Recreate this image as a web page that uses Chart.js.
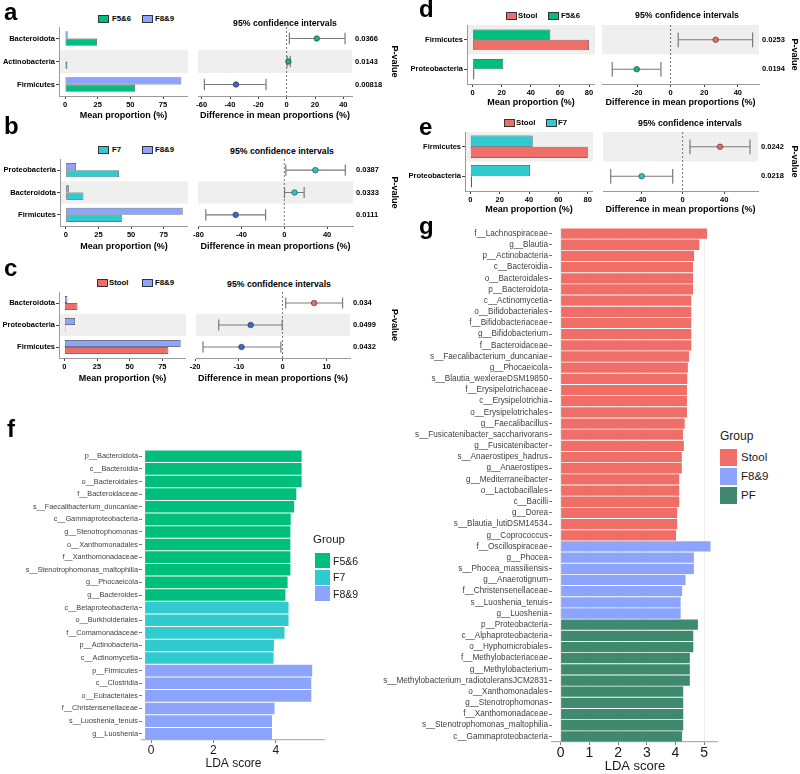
<!DOCTYPE html>
<html>
<head>
<meta charset="utf-8">
<title>STAMP and LEfSe comparison</title>
<script src="https://cdn.jsdelivr.net/npm/chart.js@4.4.1/dist/chart.umd.min.js"></script>
<style>
  body { margin: 0; background: #fff; }
  #fig { position: relative; width: 800px; height: 774px; overflow: hidden; font-family: "Liberation Sans", Arial, sans-serif; }
  #fig canvas { position: absolute; }
  .txt { position: absolute; white-space: nowrap; line-height: 1; }
  .sw { position: absolute; box-sizing: border-box; }
</style>
</head>
<body>
<div id="fig"></div>
<script>
// ---- a: F5&6 vs F8&9 ----
const aTaxa = ['Bacteroidota', 'Actinobacteria', 'Firmicutes'];
const aF56 = [24.4, 1.8, 53.6];
const aF89 = [2.0, 0.5, 89.0];
const aDiff = [21.2, 1.2, -35.8];
const aLow = [1.9, 0.3, -58.1];
const aHigh = [41.2, 2.5, -14.6];
const aP = ['0.0366', '0.0143', '0.00818'];
const aMeanTicks = [0, 25, 50, 75];
const aDiffTicks = [-60, -40, -20, 0, 20, 40];

// ---- b: F7 vs F8&9 ----
const bTaxa = ['Proteobacteria', 'Bacteroidota', 'Firmicutes'];
const bF7 = [40.8, 13.5, 42.9];
const bF89 = [7.9, 2.3, 89.5];
const bDiff = [29.1, 9.6, -45.3];
const bLow = [1.5, 0.3, -73.2];
const bHigh = [57.0, 18.6, -17.4];
const bP = ['0.0387', '0.0333', '0.0111'];
const bMeanTicks = [0, 25, 50, 75];
const bDiffTicks = [-80, -40, 0, 40];

// ---- c: Stool vs F8&9 ----
const cTaxa = ['Bacteroidota', 'Proteobacteria', 'Firmicutes'];
const cStool = [10.0, 0.8, 79.6];
const cF89 = [2.3, 8.2, 89.0];
const cDiff = [7.2, -7.3, -9.4];
const cLow = [0.7, -14.6, -18.2];
const cHigh = [13.7, -0.1, -0.4];
const cP = ['0.034', '0.0499', '0.0432'];
const cMeanTicks = [0, 25, 50, 75];
const cDiffTicks = [-20, -10, 0, 10];

// ---- d: Stool vs F5&6 ----
const dTaxa = ['Firmicutes', 'Proteobacteria'];
const dStool = [80.0, 1.2];
const dF56 = [53.4, 21.0];
const dDiff = [26.8, -20.2];
const dLow = [4.5, -34.8];
const dHigh = [48.8, -5.8];
const dP = ['0.0253', '0.0194'];
const dMeanTicks = [0, 20, 40, 60, 80];
const dDiffTicks = [-20, 0, 20, 40];

// ---- e: Stool vs F7 ----
const eTaxa = ['Firmicutes', 'Proteobacteria'];
const eStool = [80.0, 1.1];
const eF7 = [42.5, 40.7];
const eDiff = [35.9, -39.4];
const eLow = [7.0, -69.2];
const eHigh = [64.7, -9.6];
const eP = ['0.0242', '0.0218'];
const eMeanTicks = [0, 20, 40, 60, 80];
const eDiffTicks = [-40, 0, 40];

// ---- f: LEfSe F5&6 / F7 / F8&9 ----
const fTaxa = ['p__Bacteroidota', 'c__Bacteroidia', 'o__Bacteroidales', 'f__Bacteroidaceae',
  's__Faecalibacterium_duncaniae', 'c__Gammaproteobacteria', 'g__Stenotrophomonas', 'o__Xanthomonadales',
  'f__Xanthomonadaceae', 's__Stenotrophomonas_maltophilia', 'g__Phocaeicola', 'g__Bacteroides',
  'c__Betaproteobacteria', 'o__Burkholderiales', 'f__Comamonadaceae', 'p__Actinobacteria',
  'c__Actinomycetia', 'p__Firmicutes', 'c__Clostridia', 'o__Eubacteriales',
  'f__Christensenellaceae', 's__Luoshenia_tenuis', 'g__Luoshenia'];
const fLDA = [4.83, 4.83, 4.83, 4.66, 4.59, 4.48, 4.47, 4.47, 4.47, 4.47, 4.38, 4.31,
  4.41, 4.41, 4.28, 3.94, 3.93, 5.17, 5.14, 5.14, 3.96, 3.88, 3.88];
const fGroup = ['F5&6', 'F5&6', 'F5&6', 'F5&6', 'F5&6', 'F5&6', 'F5&6', 'F5&6', 'F5&6', 'F5&6', 'F5&6', 'F5&6',
  'F7', 'F7', 'F7', 'F7', 'F7', 'F8&9', 'F8&9', 'F8&9', 'F8&9', 'F8&9', 'F8&9'];
const fGroups = ['F5&6', 'F7', 'F8&9'];
const fTicks = [0, 2, 4];

// ---- g: LEfSe Stool / F8&9 / PF ----
const gTaxa = ['f__Lachnospiraceae', 'g__Blautia', 'p__Actinobacteria', 'c__Bacteroidia', 'o__Bacteroidales',
  'p__Bacteroidota', 'c__Actinomycetia', 'o__Bifidobacteriales', 'f__Bifidobacteriaceae', 'g__Bifidobacterium',
  'f__Bacteroidaceae', 's__Faecalibacterium_duncaniae', 'g__Phocaeicola', 's__Blautia_wexleraeDSM19850',
  'f__Erysipelotrichaceae', 'c__Erysipelotrichia', 'o__Erysipelotrichales', 'g__Faecalibacillus',
  's__Fusicatenibacter_saccharivorans', 'g__Fusicatenibacter', 's__Anaerostipes_hadrus', 'g__Anaerostipes',
  'g__Mediterraneibacter', 'o__Lactobacillales', 'c__Bacilli', 'g__Dorea', 's__Blautia_lutiDSM14534',
  'g__Coprococcus', 'f__Oscillospiraceae', 'g__Phocea', 's__Phocea_massiliensis', 'g__Anaerotignum',
  'f__Christensenellaceae', 's__Luoshenia_tenuis', 'g__Luoshenia', 'p__Proteobacteria',
  'c__Alphaproteobacteria', 'o__Hyphomicrobiales', 'f__Methylobacteriaceae', 'g__Methylobacterium',
  's__Methylobacterium_radiotoleransJCM2831', 'o__Xanthomonadales', 'g__Stenotrophomonas',
  'f__Xanthomonadaceae', 's__Stenotrophomonas_maltophilia', 'c__Gammaproteobacteria'];
const gLDA = [5.10, 4.83, 4.65, 4.61, 4.61, 4.61, 4.55, 4.55, 4.55, 4.55, 4.55, 4.47, 4.43, 4.41,
  4.40, 4.40, 4.40, 4.32, 4.26, 4.29, 4.22, 4.22, 4.13, 4.13, 4.13, 4.06, 4.06, 4.02,
  5.22, 4.64, 4.64, 4.35, 4.23, 4.18, 4.18,
  4.78, 4.62, 4.62, 4.50, 4.50, 4.50, 4.27, 4.27, 4.27, 4.27, 4.23];
const gGroup = [].concat(Array(28).fill('Stool'), Array(7).fill('F8&9'), Array(11).fill('PF'));
const gGroups = ['Stool', 'F8&9', 'PF'];
const gTicks = [0, 1, 2, 3, 4, 5];

const FONT = '"Liberation Sans", Arial, sans-serif';
Chart.defaults.font.family = FONT;

const groupColors = { 'F5&6': '#00BF7D', 'F7': '#30CBCE', 'F8&9': '#8CA4FC', 'Stool': '#F06E68', 'PF': '#3F896E' };
const dotColors = { 'F5&6': '#17B27A', 'F7': '#2DC4C8', 'F8&9': '#3F63CF', 'Stool': '#EC6961' };

const fig = document.getElementById('fig');

function addCanvas(x, y, w, h) {
  const c = document.createElement('canvas');
  c.width = w; c.height = h;
  c.style.left = x + 'px'; c.style.top = y + 'px';
  fig.appendChild(c);
  return c.getContext('2d');
}

function text(str, x, y, size, o = {}) {
  const el = document.createElement('div');
  el.className = 'txt';
  el.textContent = str;
  el.style.left = x + 'px';
  el.style.top = y + 'px';
  el.style.fontSize = size + 'px';
  if (o.bold) el.style.fontWeight = 'bold';
  el.style.color = o.color || '#000';
  if (o.center) el.style.transform = 'translate(-50%,-50%)';
  else if (!o.raw) el.style.transform = 'translateY(-50%)';
  fig.appendChild(el);
}

function swatch(x, y, w, h, color, border) {
  const el = document.createElement('div');
  el.className = 'sw';
  el.style.cssText += `left:${x}px;top:${y}px;width:${w}px;height:${h}px;background:${color};` +
    (border ? `border:1px solid ${border};` : '');
  fig.appendChild(el);
}

// grey band behind every other row (counting from the bottom)
const stripes = {
  id: 'stripes',
  beforeDraw(chart) {
    const { ctx, chartArea: a, scales: { y } } = chart;
    const n = y.getLabels().length;
    const h = a.height / n;
    ctx.save();
    ctx.fillStyle = '#efefef';
    for (let i = 0; i < n; i++) {
      if ((n - 1 - i) % 2 === 1) ctx.fillRect(a.left, y.getPixelForValue(i) - h / 2, a.width, h);
    }
    ctx.restore();
  }
};

// 95% CI whiskers plus the dotted zero line
const errorBars = {
  id: 'errorBars',
  beforeDatasetsDraw(chart, args, opts) {
    const { ctx, chartArea: a, scales: { x, y } } = chart;
    const rowH = a.height / y.getLabels().length;
    ctx.save();
    const x0 = x.getPixelForValue(0);
    ctx.strokeStyle = '#555';
    ctx.lineWidth = 0.8;
    ctx.setLineDash([2, 2]);
    ctx.beginPath(); ctx.moveTo(x0, a.top); ctx.lineTo(x0, a.bottom); ctx.stroke();
    ctx.setLineDash([]);
    ctx.strokeStyle = '#7a7a7a';
    ctx.lineWidth = 1.2;
    const cap = rowH * 0.25;
    opts.low.forEach((lo, i) => {
      const py = y.getPixelForValue(i);
      const x1 = x.getPixelForValue(lo), x2 = x.getPixelForValue(opts.high[i]);
      ctx.beginPath();
      ctx.moveTo(x1, py); ctx.lineTo(x2, py);
      ctx.moveTo(x1, py - cap); ctx.lineTo(x1, py + cap);
      ctx.moveTo(x2, py - cap); ctx.lineTo(x2, py + cap);
      ctx.stroke();
    });
    ctx.restore();
  }
};

const boldTick = { size: 7.5, weight: 'bold' };
const boldTitle = { size: 9, weight: 'bold' };

function stamp(L, p) {
  const [g1, g2] = p.groups;

  // mean proportion bars, second group drawn on top
  new Chart(addCanvas(L.left, L.top, L.barRight - L.left, L.axisBottom - L.top), {
    type: 'bar',
    data: {
      labels: p.taxa,
      datasets: [
        { label: g2, data: p.v2, backgroundColor: groupColors[g2] },
        { label: g1, data: p.v1, backgroundColor: groupColors[g1] }
      ]
    },
    options: {
      indexAxis: 'y', responsive: false, animation: false,
      layout: { autoPadding: false },
      datasets: { bar: { categoryPercentage: L.cat, barPercentage: 1, borderColor: '#3a3a3a', borderWidth: 0.7, borderSkipped: false } },
      plugins: { legend: { display: false }, tooltip: { enabled: false } },
      scales: {
        x: {
          min: L.meanLim[0], max: L.meanLim[1],
          afterBuildTicks: s => { s.ticks = p.meanTicks.map(v => ({ value: v })); },
          afterFit: s => { s.height = L.axisBottom - L.bottom; s.paddingLeft = 0; s.paddingRight = 0; },
          grid: { drawOnChartArea: false, tickLength: 3, color: '#444' },
          border: { color: '#999' },
          ticks: { font: boldTick, color: '#000', padding: 1 },
          title: { display: true, text: 'Mean proportion (%)', font: boldTitle, color: '#000', padding: 0 }
        },
        y: {
          afterFit: s => { s.width = L.barLeft - L.left; s.paddingTop = 0; s.paddingBottom = 0; },
          grid: { offset: false, drawOnChartArea: false, tickLength: 3, color: '#444' },
          border: { color: '#999' },
          ticks: { font: boldTick, color: '#000', padding: 1 }
        }
      }
    },
    plugins: [stripes]
  });

  // difference in mean proportions with 95% CI
  const pad = 8;
  new Chart(addCanvas(L.ciLeft - pad, L.top, L.right - L.ciLeft + pad, L.axisBottom - L.top), {
    type: 'scatter',
    data: {
      datasets: [{
        data: p.taxa.map((t, i) => ({ x: p.diff[i], y: t })),
        pointRadius: 2.8,
        pointBackgroundColor: p.diff.map(v => dotColors[v > 0 ? g1 : g2]),
        pointBorderColor: '#333',
        pointBorderWidth: 0.6
      }]
    },
    options: {
      responsive: false, animation: false,
      layout: { padding: { left: pad }, autoPadding: false },
      plugins: { legend: { display: false }, tooltip: { enabled: false }, errorBars: { low: p.low, high: p.high } },
      scales: {
        x: {
          type: 'linear', min: L.diffLim[0], max: L.diffLim[1],
          afterBuildTicks: s => { s.ticks = p.diffTicks.map(v => ({ value: v })); },
          afterFit: s => { s.height = L.axisBottom - L.bottom; s.paddingLeft = 0; s.paddingRight = 0; },
          grid: { drawOnChartArea: false, tickLength: 3, color: '#444' },
          border: { color: '#999' },
          ticks: { font: boldTick, color: '#000', padding: 1 },
          title: { display: true, text: 'Difference in mean proportions (%)', font: boldTitle, color: '#000', padding: 0 }
        },
        y: { type: 'category', labels: p.taxa, offset: true, display: false },
        pv: {
          type: 'category', axis: 'y', position: 'right', labels: p.pvals, offset: true,
          afterFit: s => { s.width = L.right - L.ciRight; s.paddingTop = 0; s.paddingBottom = 0; },
          grid: { display: false, drawTicks: false },
          border: { display: false },
          ticks: { font: boldTick, color: '#000', padding: 3 },
          title: { display: true, text: 'P-value', font: boldTitle, color: '#000', padding: 0 }
        }
      }
    },
    plugins: [stripes, errorBars]
  });

  // legend and CI title
  const lg = L.legend;
  swatch(lg[0], lg[4] - 4, 11, 8, groupColors[g1], '#333');
  text(g1, lg[1], lg[4], 7.8, { bold: true });
  swatch(lg[2], lg[4] - 4, 11, 8, groupColors[g2], '#333');
  text(g2, lg[3], lg[4], 7.8, { bold: true });
  text('95% confidence intervals', L.ciTitle[0], L.ciTitle[1], 8.7, { bold: true, center: true });
}

stamp({ left: 0, top: 27, bottom: 96, axisBottom: 121, barLeft: 59, barRight: 188, ciLeft: 198, ciRight: 352, right: 400,
  cat: 0.64, meanLim: [-4.6, 94.1], diffLim: [-62.6, 46.1], legend: [98, 112, 142, 155, 19], ciTitle: [285, 23] },
  { groups: ['F5&6', 'F8&9'], taxa: aTaxa, v1: aF56, v2: aF89, meanTicks: aMeanTicks,
    diff: aDiff, low: aLow, high: aHigh, diffTicks: aDiffTicks, pvals: aP });

stamp({ left: 0, top: 159, bottom: 226, axisBottom: 252, barLeft: 60, barRight: 188, ciLeft: 198, ciRight: 353, right: 400,
  cat: 0.64, meanLim: [-4.4, 93.6], diffLim: [-80.5, 64.2], legend: [98, 112, 142, 155, 150], ciTitle: [282, 151] },
  { groups: ['F7', 'F8&9'], taxa: bTaxa, v1: bF7, v2: bF89, meanTicks: bMeanTicks,
    diff: bDiff, low: bLow, high: bHigh, diffTicks: bDiffTicks, pvals: bP });

stamp({ left: 0, top: 292, bottom: 358, axisBottom: 384, barLeft: 59, barRight: 186, ciLeft: 196, ciRight: 350, right: 400,
  cat: 0.64, meanLim: [-4.1, 93.1], diffLim: [-19.8, 15.4], legend: [97, 109, 142, 155, 283], ciTitle: [279, 284] },
  { groups: ['Stool', 'F8&9'], taxa: cTaxa, v1: cStool, v2: cF89, meanTicks: cMeanTicks,
    diff: cDiff, low: cLow, high: cHigh, diffTicks: cDiffTicks, pvals: cP });

stamp({ left: 400, top: 25, bottom: 84, axisBottom: 108, barLeft: 467, barRight: 595, ciLeft: 602, ciRight: 759, right: 800,
  cat: 0.7, meanLim: [-3.9, 84.1], diffLim: [-40.9, 52.6], legend: [506, 518, 548, 561, 16], ciTitle: [687, 15] },
  { groups: ['Stool', 'F5&6'], taxa: dTaxa, v1: dStool, v2: dF56, meanTicks: dMeanTicks,
    diff: dDiff, low: dLow, high: dHigh, diffTicks: dDiffTicks, pvals: dP });

stamp({ left: 400, top: 132, bottom: 191, axisBottom: 215, barLeft: 465, barRight: 593, ciLeft: 603, ciRight: 758, right: 800,
  cat: 0.76, meanLim: [-3.6, 83.6], diffLim: [-76.6, 72.4], legend: [504, 516, 546, 558, 123], ciTitle: [690, 123] },
  { groups: ['Stool', 'F7'], taxa: eTaxa, v1: eStool, v2: eF7, meanTicks: eMeanTicks,
    diff: eDiff, low: eLow, high: eHigh, diffTicks: eDiffTicks, pvals: eP });

// ---- LDA bar charts ----
function lda(box, taxa, scores, groups, ticks, o) {
  new Chart(addCanvas(box.left, box.top, box.right - box.left, box.canvasBottom - box.top), {
    type: 'bar',
    data: {
      labels: taxa,
      datasets: [{ data: scores, base: o.base, backgroundColor: groups.map(g => groupColors[g]) }]
    },
    options: {
      indexAxis: 'y', responsive: false, animation: false,
      layout: { autoPadding: false },
      datasets: { bar: { categoryPercentage: 0.92, barPercentage: 1 } },
      plugins: { legend: { display: false }, tooltip: { enabled: false } },
      scales: {
        x: {
          min: o.lim[0], max: o.lim[1],
          afterBuildTicks: s => { s.ticks = ticks.map(v => ({ value: v })); },
          afterFit: s => { s.height = box.canvasBottom - box.bottom; s.paddingLeft = 0; s.paddingRight = 0; },
          grid: { drawOnChartArea: o.grid, color: '#ececec', tickColor: '#777', tickLength: 3 },
          border: { color: '#b3b3b3', width: 1.2 },
          ticks: { font: { size: o.tickSize }, color: '#1a1a1a', padding: 0 },
          title: { display: true, text: 'LDA score', font: { size: o.titleSize }, color: '#1a1a1a', padding: 0 }
        },
        y: {
          afterFit: s => { s.width = box.axisLeft - box.left; s.paddingTop = 0; s.paddingBottom = 0; },
          grid: { offset: false, drawOnChartArea: false, tickLength: 3, color: '#777' },
          border: { display: false },
          ticks: { font: { size: o.labelSize }, color: '#404040', padding: 1, autoSkip: false }
        }
      }
    }
  });
}

lda({ left: 0, top: 450, bottom: 740, canvasBottom: 771, axisLeft: 142, right: 325 },
  fTaxa, fLDA, fGroup, fTicks, { base: -0.19, lim: [-0.29, 5.58], grid: false, tickSize: 12, titleSize: 12, labelSize: 7.3 });

lda({ left: 370, top: 228, bottom: 742, canvasBottom: 774, axisLeft: 552, right: 718 },
  gTaxa, gLDA, gGroup, gTicks, { base: 0, lim: [-0.3, 5.48], grid: true, tickSize: 14, titleSize: 13, labelSize: 8.2 });

// group legends
text('Group', 313, 540, 11.5, { color: '#1a1a1a' });
fGroups.forEach((g, i) => {
  swatch(315, 553 + i * 16.5, 15, 15, groupColors[g]);
  text(g, 333, 560.5 + i * 16.5, 10.5, { color: '#1a1a1a' });
});
text('Group', 720, 436, 12, { color: '#1a1a1a' });
gGroups.forEach((g, i) => {
  swatch(720, 449 + i * 19, 17, 17, groupColors[g]);
  text(g, 741, 457.5 + i * 19, 11.5, { color: '#1a1a1a' });
});

// panel letters
[['a', 4, 0], ['b', 4, 114], ['c', 4, 256], ['d', 419, -3], ['e', 419, 115], ['f', 7, 417], ['g', 419, 214]]
  .forEach(([s, x, y]) => text(s, x, y, 24, { bold: true, raw: true }));
</script>
</body>
</html>
